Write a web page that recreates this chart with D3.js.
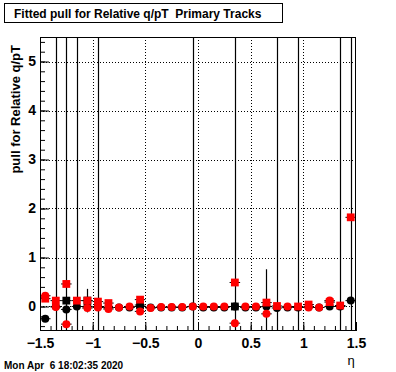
<!DOCTYPE html>
<html><head><meta charset="utf-8">
<script src="https://cdn.jsdelivr.net/npm/d3@7"></script>
<style>
html,body{margin:0;padding:0;background:#fff;}
svg{display:block;}
</style></head>
<body>
<svg id="c" width="396" height="372"></svg>
<script>
// ---- data ----
const etaBins = [-1.45,-1.35,-1.25,-1.15,-1.05,-0.95,-0.85,-0.75,-0.65,-0.55,-0.45,-0.35,-0.25,-0.15,-0.05,
                  0.05,0.15,0.25,0.35,0.45,0.55,0.65,0.75,0.85,0.95,1.05,1.15,1.25,1.35,1.45];
// black circles
const blackCircle    = [-0.25,0.00,-0.06,0.00,0.00,0.00,-0.02,-0.02,-0.02,0.00,-0.02,-0.02,-0.02,-0.02,0.00,
                        -0.02,-0.02,-0.02,0.00,-0.02,-0.02,0.00,-0.03,-0.02,-0.02,-0.01,-0.02,0.00,0.00,0.12];
const blackCircleErr = [0.02,50,0.02,50,0.02,50,0.02,0.02,0.02,0.02,0.02,0.02,0.02,0.02,50,
                        0.02,0.02,0.02,0.02,0.02,0.02,0.76,50,0.02,50,0.02,0.02,0.02,50,50];
// black squares
const blackSquare    = [null,null,0.12,null,0.12,null,null,null,null,0.03,null,null,null,null,null,
                        null,null,null,0.00,null,null,null,null,null,null,null,null,null,null,null];
const blackSquareErr = [null,null,50,null,0.24,null,null,null,null,0.02,null,null,null,null,null,
                        null,null,null,50,null,null,null,null,null,null,null,null,null,null,null];
// red circles
const redCircle      = [0.22,-0.01,-0.36,null,-0.03,-0.02,-0.05,-0.02,0.00,-0.10,-0.03,-0.01,-0.01,-0.01,0.00,
                        0.00,0.00,0.00,-0.34,0.00,0.00,-0.15,null,0.00,null,-0.02,-0.02,0.12,null,null];
// red squares
const redSquare      = [0.16,0.12,0.46,0.12,0.12,0.10,0.07,null,null,0.14,null,null,null,null,null,
                        null,null,null,0.49,null,null,0.08,0.01,null,0.00,0.04,null,0.09,0.02,1.82];
const xTicks = [-1.5,-1,-0.5,0,0.5,1,1.5];
const xTickLabels = ["\u22121.5","\u22121","\u22120.5","0","0.5","1","1.5"];
const yTicks = [0,1,2,3,4,5];
const yTickLabels = ["0","1","2","3","4","5"];
const binHalfWidth = 0.05;

// ---- layout ----
const L=40, R=356, T=37, B=331;
const FONT = "'Liberation Sans', Arial, Helvetica, sans-serif";
const svg = d3.select("#c");
const x = d3.scaleLinear().domain([-1.5,1.5]).range([L,R]);
const y = d3.scaleLinear().domain([-0.5,5.5]).range([B,T]);

svg.append("rect").attr("width",396).attr("height",372).attr("fill","#fff");

svg.append("clipPath").attr("id","fr").append("rect")
  .attr("x",L).attr("y",T).attr("width",R-L).attr("height",B-T);

// grid
const grid = svg.append("g").attr("stroke","#000").attr("stroke-width",1).attr("stroke-dasharray","1,2");
grid.selectAll("line.gx").data(xTicks.slice(1,-1)).join("line")
  .attr("x1",d=>Math.round(x(d))+0.5).attr("x2",d=>Math.round(x(d))+0.5).attr("y1",T).attr("y2",B);
grid.selectAll("line.gy").data(yTicks).join("line")
  .attr("y1",d=>Math.round(y(d))+0.5).attr("y2",d=>Math.round(y(d))+0.5).attr("x1",L).attr("x2",R);

// axes
function styleAxis(g){
  g.select(".domain").remove();
  g.selectAll("line").attr("stroke","#000");
}
const xMinor = d3.range(-15,16).map(i=>i/10);
const yMinor = d3.range(-2,28).map(i=>i/5);
svg.append("g").attr("transform",`translate(0,${B})`)
  .call(d3.axisBottom(x).tickValues(xMinor).tickSize(-5).tickFormat(""))
  .call(styleAxis);
const xa = svg.append("g").attr("transform",`translate(0,${B})`)
  .call(d3.axisBottom(x).tickValues(xTicks).tickSize(-9).tickPadding(7)
        .tickFormat((d,i)=>xTickLabels[i]))
  .call(styleAxis);
xa.selectAll("text").attr("font-family",FONT).attr("font-size",14).attr("font-weight","bold").attr("fill","#000");

svg.append("g").attr("transform",`translate(${L},0)`)
  .call(d3.axisLeft(y).tickValues(yMinor).tickSize(-5).tickFormat(""))
  .call(styleAxis);
const ya = svg.append("g").attr("transform",`translate(${L},0)`)
  .call(d3.axisLeft(y).tickValues(yTicks).tickSize(-9).tickPadding(4)
        .tickFormat((d,i)=>yTickLabels[i]))
  .call(styleAxis);
ya.selectAll("text").attr("font-family",FONT).attr("font-size",14).attr("font-weight","bold").attr("fill","#000");

// data layer
const plot = svg.append("g").attr("clip-path","url(#fr)");

function drawSeries(vals, errs, color, shape){
  const pts = etaBins.map((e,i)=>({e, v:vals[i], err: errs? errs[i] : 0})).filter(p=>p.v!==null);
  const g = plot.append("g");
  g.selectAll("line.ex").data(pts).join("line")
    .attr("x1",p=>x(p.e-binHalfWidth)).attr("x2",p=>x(p.e+binHalfWidth))
    .attr("y1",p=>y(p.v)).attr("y2",p=>y(p.v))
    .attr("stroke","#000").attr("stroke-width",1);
  g.selectAll("line.ey").data(pts.filter(p=>p.err)).join("line")
    .attr("x1",p=>Math.round(x(p.e))+0.5).attr("x2",p=>Math.round(x(p.e))+0.5)
    .attr("y1",p=>y(p.v-p.err)).attr("y2",p=>y(p.v+p.err))
    .attr("stroke","#000").attr("stroke-width",1.2);
  if(shape==="circle"){
    g.selectAll("circle").data(pts).join("circle")
      .attr("cx",p=>x(p.e)).attr("cy",p=>y(p.v)).attr("r",4).attr("fill",color);
  } else {
    g.selectAll("rect").data(pts).join("rect")
      .attr("x",p=>x(p.e)-3.9).attr("y",p=>y(p.v)-3.9).attr("width",7.8).attr("height",7.8).attr("fill",color);
  }
}
drawSeries(blackCircle, blackCircleErr, "#000", "circle");
drawSeries(blackSquare, blackSquareErr, "#000", "square");
drawSeries(redCircle, null, "#ff0000", "circle");
drawSeries(redSquare, null, "#ff0000", "square");

// frame
svg.append("rect").attr("x",L+0.5).attr("y",T+0.5).attr("width",R-L-1).attr("height",B-T-1)
  .attr("fill","none").attr("stroke","#000").attr("stroke-width",1);

// title box
svg.append("rect").attr("x",4.5).attr("y",3.5).attr("width",278).attr("height",19)
  .attr("fill","#fff").attr("stroke","#000");
svg.append("text").attr("x",14).attr("y",17.5).attr("font-family",FONT).attr("font-size",12)
  .attr("font-weight","bold").text("Fitted pull for Relative q/pT  Primary Tracks").style("white-space","pre");

// y title
svg.append("text").attr("transform","translate(19.5,45) rotate(-90)").attr("text-anchor","end")
  .attr("font-family",FONT).attr("font-size",13).attr("font-weight","bold")
  .text("pull for Relative q/pT");

// x title
svg.append("text").attr("x",351).attr("y",365).attr("text-anchor","middle")
  .attr("font-family",FONT).attr("font-size",13).text("\u03b7");

// date
svg.append("text").attr("x",4).attr("y",369).attr("font-family",FONT).attr("font-size",10)
  .attr("font-weight","bold").style("white-space","pre").text("Mon Apr  6 18:02:35 2020");
</script>
</body></html>
